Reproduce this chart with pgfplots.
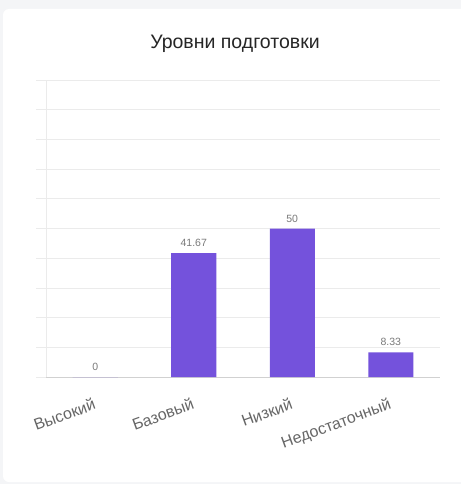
\documentclass[border=0pt]{standalone}
\usepackage{fontspec}
\setmainfont{Liberation Sans}
\usepackage{pgfplots}
\pgfplotsset{compat=1.18}
\definecolor{bg}{HTML}{F4F5F7}
\definecolor{barc}{HTML}{7452DC}
\definecolor{gridc}{HTML}{EBEBEB}
\definecolor{lbl}{HTML}{666666}
\definecolor{val}{HTML}{7A7A7A}
\begin{document}
\begin{tikzpicture}[x=1pt,y=1pt]
\clip (0,0) rectangle (461,-484);
\fill[bg] (0,0) rectangle (461,-484);
\fill[white, rounded corners=6pt] (3,-9) rectangle (480,-482);
\node[font=\fontsize{19.5}{22}\selectfont, text=black!85] at (235,-44) {Уровни подготовки};
\begin{axis}[
  at={(46pt,-377pt)}, anchor=south west,
  scale only axis, width=394pt, height=297pt,
  ybar, bar width=45pt,
  xmin=-0.5, xmax=3.5, ymin=0, ymax=100,
  xtick={0,1,2,3},
  xticklabels={Высокий,Базовый,Низкий,Недостаточный},
  ytick={0,10,...,100}, yticklabel=\empty,
  ymajorgrids, grid style={gridc, line width=0.8pt},
  axis x line*=bottom, axis y line*=left,
  x axis line style={-, draw=black!18, line width=0.8pt},
  y axis line style={-, draw=gridc, line width=0.8pt},
  xtick style={draw=none},
  ytick style={draw=gridc, line width=0.8pt},
  major tick length=10pt, tick align=outside,
  xticklabel style={font=\fontsize{16}{18}\selectfont, text=lbl, rotate=20,
    anchor=north east, inner sep=0pt, yshift=-9pt, xshift=-6pt},
  /pgf/number format/assume math mode=true,
  nodes near coords,
  every node near coord/.append style={font=\fontsize{10.5}{12}\selectfont,
    text=val, inner sep=0pt, anchor=south, yshift=6pt},
]
\addplot[fill=barc, draw=none] coordinates {(0,0) (1,41.67) (2,50) (3,8.33)};
\end{axis}
\end{tikzpicture}
\end{document}
